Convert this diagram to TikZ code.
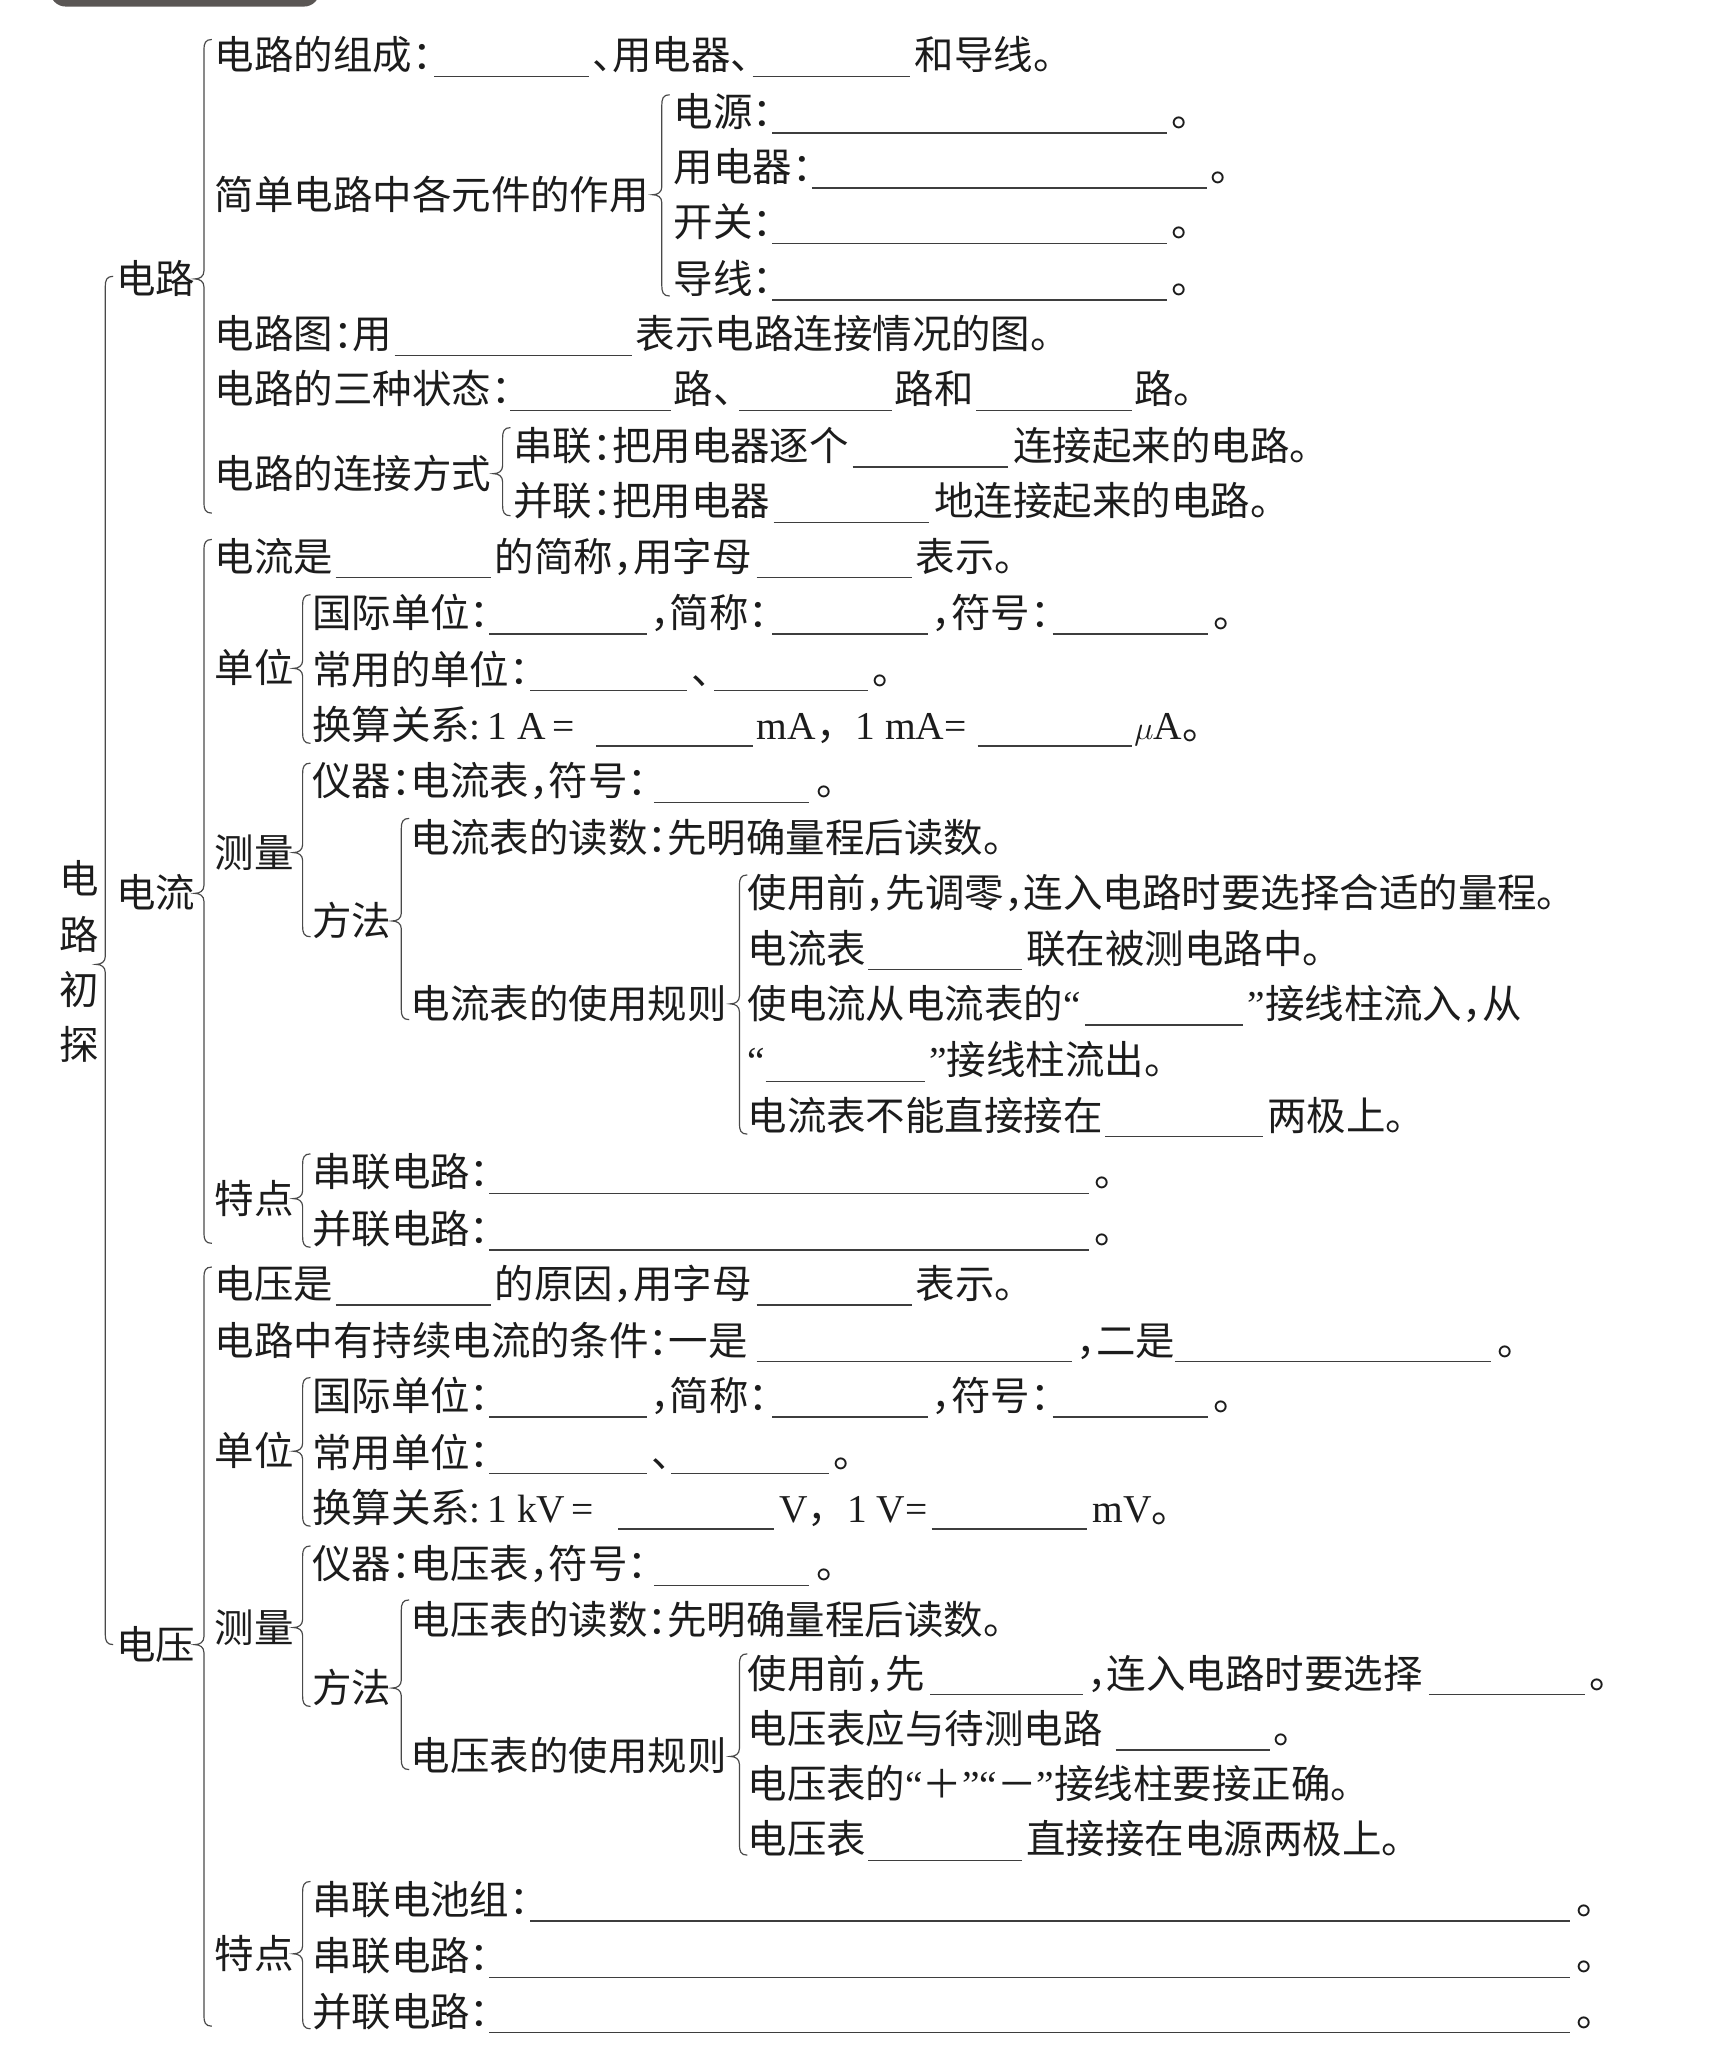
\documentclass[tikz,border=0pt]{standalone}
\usepackage{fontspec}
\setmainfont{Liberation Serif}
\newfontfamily\cjk{Noto Sans CJK SC}
\newcommand\hk{\makebox[0.5em][l]{：}}
\newcommand\hc{\makebox[0.5em][l]{，}}
\newcommand\hd{\makebox[0.5em][l]{、}}
\newcommand\qlft{{\rmfamily “}}
\newcommand\qrgt{{\rmfamily ”}}
\newcommand\T[4]{\node[txt] (#1) at (#2,#3+11) {#4};}
\newcommand\U[3]{\draw[ul] (#1,#3+16) -- (#2,#3+16);}
\newcommand\brc[4]{\draw[brc] (#1+6,#2) .. controls (#1+1,#2) and (#1,#2+3) .. (#1,#2+8) -- (#1,#3-6) .. controls (#1,#3-2) and (#1-3,#3) .. (#1-7,#3) .. controls (#1-3,#3) and (#1,#3+2) .. (#1,#3+6) -- (#1,#4-8) .. controls (#1,#4-3) and (#1+1,#4) .. (#1+6,#4);}
\definecolor{ink}{HTML}{1C1C1C}
\definecolor{hdr}{HTML}{5A5654}
\begin{document}
\begin{tikzpicture}[x=1pt,y=-1pt,
  txt/.style={anchor=base west,inner sep=0pt,text=ink,font=\cjk\fontsize{30}{30}\selectfont},
  ul/.style={draw=ink!85,line width=1.1pt},
  brc/.style={draw=ink!80,line width=0.9pt}]
\useasboundingbox (0,0) rectangle (1305,1568);
\begin{scope}
\clip (0,0) rectangle (1305,1568);
\fill[hdr,rounded corners=12pt] (38,-30) rectangle (243,5);
\end{scope}
% root
\node[txt,anchor=center,align=center,font=\cjk\fontsize{30}{42}\selectfont] (root) at (60,731) {电\\路\\初\\探};
\brc{80}{210}{733}{1250}
% ===== 电路 =====
\T{dl}{88}{212}{电路}
\brc{155}{30}{212}{390}
\T{r1a}{163}{42}{电路的组成\hk}\U{330}{448}{42}
\T{r1b}{450}{42}{\hd 用电器\hd}\U{572}{692}{42}
\T{r1c}{695}{42}{和导线。}
\T{zy}{163}{148}{简单电路中各元件的作用}
\brc{503}{72}{148}{225}
\T{r2a}{512}{85}{电源\hk}\U{587}{887}{85}\T{r2b}{890}{85}{。}
\T{r3a}{512}{127}{用电器\hk}\U{617}{917}{127}\T{r3b}{920}{127}{。}
\T{r4a}{512}{169}{开关\hk}\U{587}{887}{169}\T{r4b}{890}{169}{。}
\T{r5a}{512}{212}{导线\hk}\U{587}{887}{212}\T{r5b}{890}{212}{。}
\T{r6a}{163}{254}{电路图\hk 用}\U{300}{480}{254}
\T{r6b}{483}{254}{表示电路连接情况的图。}
\T{r7a}{163}{296}{电路的三种状态\hk}\U{388}{510}{296}
\T{r7b}{512}{296}{路\hd}\U{562}{678}{296}
\T{r7c}{680}{296}{路和}\U{742}{860}{296}
\T{r7d}{862}{296}{路。}
\T{lj}{163}{360}{电路的连接方式}
\brc{382}{325}{360}{392}
\T{r8a}{390}{339}{串联\hk 把用电器逐个}\U{648}{766}{339}
\T{r8b}{770}{339}{连接起来的电路。}
\T{r9a}{390}{381}{并联\hk 把用电器}\U{588}{706}{381}
\T{r9b}{710}{381}{地连接起来的电路。}
% ===== 电流 =====
\T{dli}{88}{679}{电流}
\brc{155}{410}{679}{945}
\T{s1a}{163}{423}{电流是}\U{255}{373}{423}
\T{s1b}{376}{423}{的简称\hc 用字母}\U{575}{693}{423}
\T{s1c}{696}{423}{表示。}
\T{dw1}{163}{508}{单位}
\brc{230}{452}{508}{565}
\T{s2a}{237}{466}{国际单位\hk}\U{372}{492}{466}
\T{s2b}{494}{466}{\hc 简称\hk}\U{587}{705}{466}
\T{s2c}{708}{466}{\hc 符号\hk}\U{800}{918}{466}
\T{s2d}{922}{466}{。}
\T{s3a}{237}{509}{常用的单位\hk}\U{403}{522}{509}
\T{s3b}{525}{509}{\hd}\U{543}{660}{509}
\T{s3c}{663}{509}{。}
\T{s4a}{237}{551}{换算关系{\rmfamily :\,1 A\,=}}\U{453}{572}{551}
\T{s4b}{575}{551}{{\rmfamily mA}，{\rmfamily 1 mA=}}\U{743}{860}{551}
\T{s4c}{862}{551}{$\mu${\rmfamily A}。}
\T{cl1}{163}{648}{测量}
\brc{230}{580}{648}{712}
\T{s5a}{237}{594}{仪器\hk 电流表\hc 符号\hk}\U{497}{615}{594}
\T{s5b}{620}{594}{。}
\T{ff1}{237}{700}{方法}
\brc{305}{622}{700}{775}
\T{s6}{312}{637}{电流表的读数\hk 先明确量程后读数。}
\T{gz1}{312}{763}{电流表的使用规则}
\brc{562}{665}{763}{862}
\T{s7}{568}{679}{使用前\hc 先调零\hc 连入电路时要选择合适的量程。}
\T{s8a}{568}{721}{电流表}\U{660}{777}{721}
\T{s8b}{780}{721}{联在被测电路中。}
\T{s9a}{568}{763}{使电流从电流表的\qlft}\U{825}{945}{763}
\T{s9b}{948}{763}{\qrgt 接线柱流入\hc 从}
\T{s10a}{568}{806}{\qlft}\U{582}{703}{806}
\T{s10b}{706}{806}{\qrgt 接线柱流出。}
\T{s11a}{568}{848}{电流表不能直接接在}\U{840}{960}{848}
\T{s11b}{963}{848}{两极上。}
\T{td1}{163}{911}{特点}
\brc{230}{877}{911}{948}
\T{s12a}{237}{891}{串联电路\hk}\U{372}{828}{891}\T{s12b}{832}{891}{。}
\T{s13a}{237}{934}{并联电路\hk}\U{372}{828}{934}\T{s13b}{832}{934}{。}
% ===== 电压 =====
\T{dy}{88}{1250}{电压}
\brc{155}{963}{1250}{1540}
\T{t1a}{163}{976}{电压是}\U{255}{373}{976}
\T{t1b}{376}{976}{的原因\hc 用字母}\U{575}{693}{976}
\T{t1c}{696}{976}{表示。}
\T{t2a}{163}{1019}{电路中有持续电流的条件\hk 一是}\U{575}{815}{1019}
\T{t2b}{818}{1019}{\hc 二是}\U{893}{1133}{1019}
\T{t2c}{1138}{1019}{。}
\T{dw2}{163}{1103}{单位}
\brc{230}{1047}{1103}{1160}
\T{t3a}{237}{1061}{国际单位\hk}\U{372}{492}{1061}
\T{t3b}{494}{1061}{\hc 简称\hk}\U{587}{705}{1061}
\T{t3c}{708}{1061}{\hc 符号\hk}\U{800}{918}{1061}
\T{t3d}{922}{1061}{。}
\T{t4a}{237}{1104}{常用单位\hk}\U{372}{492}{1104}
\T{t4b}{495}{1104}{\hd}\U{510}{630}{1104}
\T{t4c}{633}{1104}{。}
\T{t5a}{237}{1146}{换算关系{\rmfamily :\,1 kV\,=}}\U{470}{588}{1146}
\T{t5b}{592}{1146}{{\rmfamily V}，{\rmfamily 1 V=}}\U{708}{826}{1146}
\T{t5c}{830}{1146}{{\rmfamily mV}。}
\T{cl2}{163}{1237}{测量}
\brc{230}{1175}{1237}{1297}
\T{t6a}{237}{1189}{仪器\hk 电压表\hc 符号\hk}\U{497}{615}{1189}
\T{t6b}{620}{1189}{。}
\T{ff2}{237}{1283}{方法}
\brc{305}{1216}{1283}{1345}
\T{t7}{312}{1231}{电压表的读数\hk 先明确量程后读数。}
\T{gz2}{312}{1335}{电压表的使用规则}
\brc{562}{1257}{1335}{1410}
\T{t8a}{568}{1272}{使用前\hc 先}\U{707}{823}{1272}
\T{t8b}{826}{1272}{\hc 连入电路时要选择}\U{1086}{1205}{1272}
\T{t8c}{1208}{1272}{。}
\T{t9a}{568}{1314}{电压表应与待测电路}\U{848}{965}{1314}
\T{t9b}{968}{1314}{。}
\T{t10}{568}{1356}{电压表的\qlft ＋\qrgt\qlft －\qrgt 接线柱要接正确。}
\T{t11a}{568}{1398}{电压表}\U{660}{777}{1398}
\T{t11b}{780}{1398}{直接接在电源两极上。}
\T{td2}{163}{1485}{特点}
\brc{230}{1430}{1485}{1542}
\T{t12a}{237}{1444}{串联电池组\hk}\U{403}{1193}{1444}\T{t12b}{1198}{1444}{。}
\T{t13a}{237}{1487}{串联电路\hk}\U{372}{1193}{1487}\T{t13b}{1198}{1487}{。}
\T{t14a}{237}{1529}{并联电路\hk}\U{372}{1193}{1529}\T{t14b}{1198}{1529}{。}
\end{tikzpicture}
\end{document}
